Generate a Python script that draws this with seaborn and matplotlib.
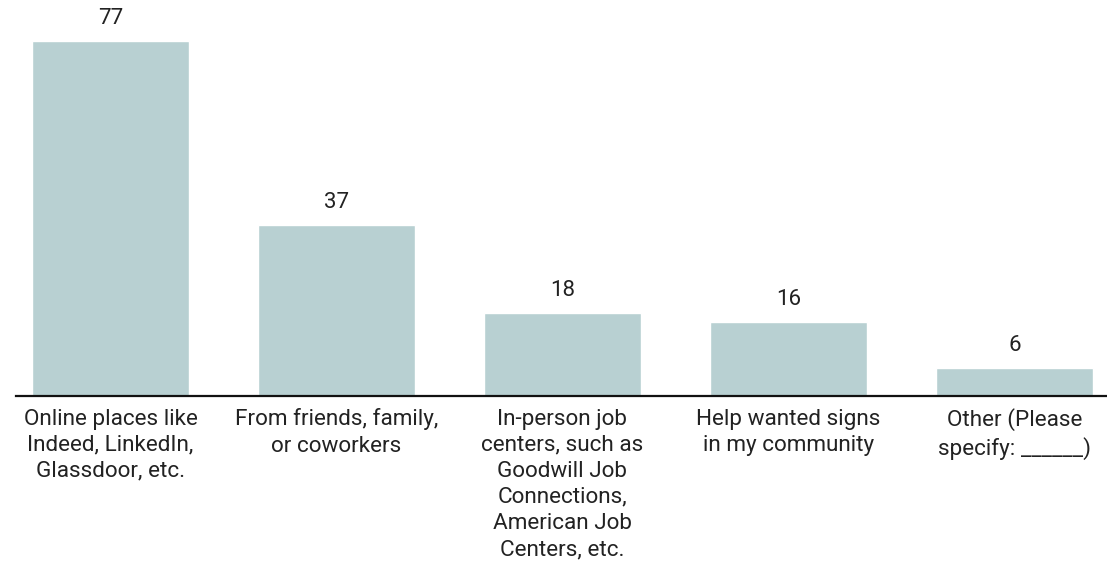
import matplotlib
matplotlib.use("Agg")
import matplotlib.pyplot as plt
import seaborn as sns
import pandas as pd

categories = [
    "Online places like\nIndeed, LinkedIn,\nGlassdoor, etc.",
    "From friends, family,\nor coworkers",
    "In-person job\ncenters, such as\nGoodwill Job\nConnections,\nAmerican Job\nCenters, etc.",
    "Help wanted signs\nin my community",
    "Other (Please\nspecify: ______)",
]
values = [77, 37, 18, 16, 6]

sns.set_theme(style="white")
plt.rcParams["font.family"] = ["Roboto", "DejaVu Sans"]

df = pd.DataFrame({"cat": categories, "val": values})

fig = plt.figure(figsize=(11.07, 5.61), dpi=100)
ax = fig.add_axes([16 / 1107, (561 - 396) / 561, 1 - 16 / 1107, 396 / 561])
sns.barplot(data=df, x="cat", y="val", color="#b8d0d2", saturation=1,
            width=0.695, ax=ax)

ax.set_xlim(-0.418, 4.41)
ax.set_ylim(0, 396 / (355 / 77))
for p, v in zip(ax.patches, values):
    ax.text(p.get_x() + p.get_width() / 2, v + 2.6, str(v), ha="center",
            va="bottom", fontsize=16, color="#222222")

for s in ["top", "right", "left"]:
    ax.spines[s].set_visible(False)
ax.spines["bottom"].set_color("#111111")
ax.spines["bottom"].set_linewidth(1.6)
ax.set_yticks([])
ax.set_xlabel("")
ax.set_ylabel("")
ax.tick_params(axis="x", length=0, pad=9, labelsize=16.2, labelcolor="#222222")
for t in ax.get_xticklabels():
    t.set_linespacing(1.32)

fig.savefig("out.png", dpi=100)
